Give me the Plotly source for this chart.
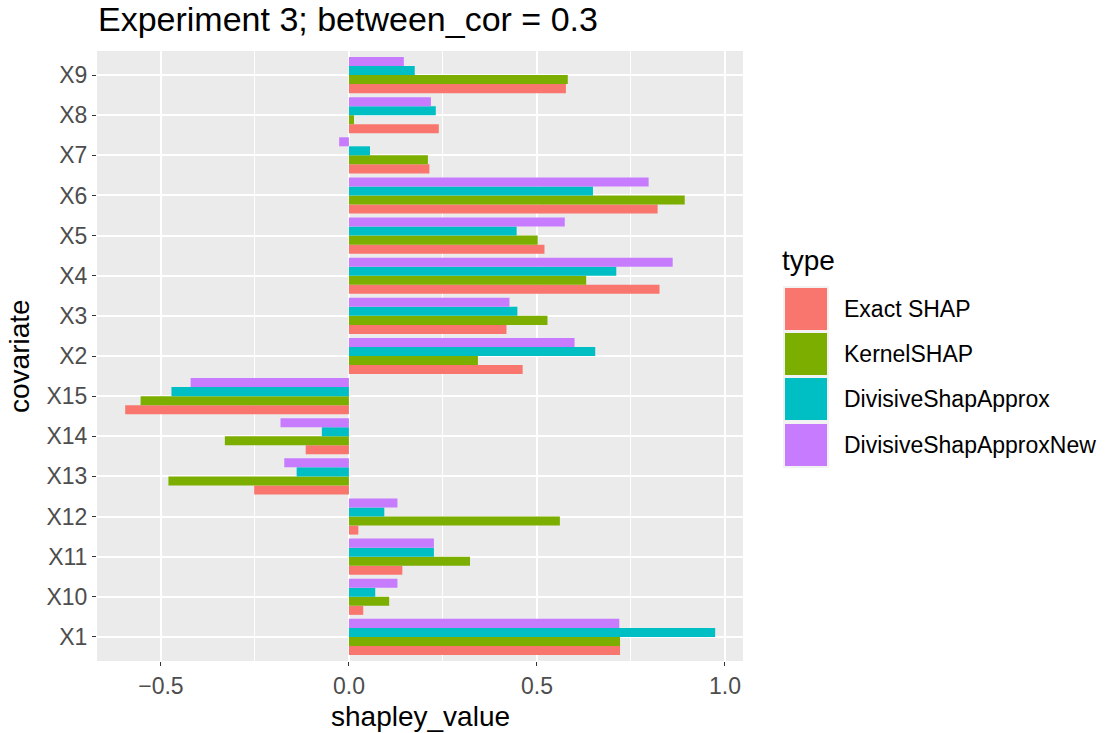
import plotly.graph_objects as go

categories = ["X1", "X10", "X11", "X12", "X13", "X14", "X15",
              "X2", "X3", "X4", "X5", "X6", "X7", "X8", "X9"]
types = ["Exact SHAP", "KernelSHAP", "DivisiveShapApprox", "DivisiveShapApproxNew"]
colors = ["#F8766D", "#7CAE00", "#00BFC4", "#C77CFF"]

exact_shap = [0.721, 0.038, 0.142, 0.025, -0.252, -0.115, -0.595,
              0.462, 0.419, 0.826, 0.520, 0.821, 0.214, 0.239, 0.577]
kernel_shap = [0.721, 0.107, 0.322, 0.561, -0.480, -0.330, -0.554,
               0.343, 0.528, 0.631, 0.502, 0.893, 0.210, 0.0135, 0.582]
divisive = [0.974, 0.070, 0.226, 0.094, -0.139, -0.072, -0.472,
            0.655, 0.448, 0.711, 0.446, 0.649, 0.056, 0.231, 0.175]
divisive_new = [0.719, 0.129, 0.226, 0.129, -0.172, -0.182, -0.421,
                0.600, 0.427, 0.861, 0.574, 0.797, -0.026, 0.218, 0.146]

series = [exact_shap, kernel_shap, divisive, divisive_new]

FONT = "Liberation Sans, Arial, sans-serif"
TICK_SIZE = 23
AXIS_TITLE_SIZE = 28
TITLE_SIZE = 34
LEGEND_TEXT_SIZE = 23

fig = go.Figure()
for name, vals, col in zip(types, series, colors):
    fig.add_trace(go.Bar(
        x=vals, y=categories, orientation="h", name=name,
        marker=dict(color=col, line=dict(width=0)),
        showlegend=False,
    ))

# page geometry (pixels)
L = dict(left=97, right=743, top=51, bottom=661, W=1107, H=733)
pw = L["right"] - L["left"]
ph = L["bottom"] - L["top"]

def px_x(x):
    return (x - L["left"]) / pw

def px_y(y):
    return (L["bottom"] - y) / ph

shapes = []
annotations = []

# ggplot-like legend
key_tops = [288, 333, 378, 424]
key_h = 42
shapes.append(dict(type="rect", xref="paper", yref="paper",
                   x0=px_x(783), x1=px_x(829), y0=px_y(468), y1=px_y(286),
                   fillcolor="#F2F2F2", line=dict(width=0), layer="above"))
for t, name, col in zip(key_tops, types, colors):
    shapes.append(dict(type="rect", xref="paper", yref="paper",
                       x0=px_x(785), x1=px_x(827), y0=px_y(t + key_h), y1=px_y(t),
                       fillcolor=col, line=dict(width=0), layer="above"))
    annotations.append(dict(xref="paper", yref="paper", x=px_x(842), y=px_y(t + key_h / 2),
                            text=name, showarrow=False, xanchor="left", yanchor="middle",
                            font=dict(family=FONT, size=LEGEND_TEXT_SIZE, color="#000000")))
annotations.append(dict(xref="paper", yref="paper", x=px_x(780), y=px_y(260),
                        text="type", showarrow=False, xanchor="left", yanchor="middle",
                        font=dict(family=FONT, size=AXIS_TITLE_SIZE, color="#000000")))

# axis titles
annotations.append(dict(xref="paper", yref="paper", x=0.5, y=px_y(716),
                        text="shapley_value", showarrow=False, xanchor="center", yanchor="middle",
                        font=dict(family=FONT, size=AXIS_TITLE_SIZE, color="#000000")))
annotations.append(dict(xref="paper", yref="paper", x=px_x(19), y=0.5, textangle=-90,
                        text="covariate", showarrow=False, xanchor="center", yanchor="middle",
                        font=dict(family=FONT, size=AXIS_TITLE_SIZE, color="#000000")))
# title
annotations.append(dict(xref="paper", yref="paper", x=px_x(96), y=px_y(19),
                        text="Experiment 3; between_cor = 0.3", showarrow=False,
                        xanchor="left", yanchor="middle",
                        font=dict(family=FONT, size=TITLE_SIZE, color="#000000")))

fig.update_layout(
    width=1107, height=733,
    margin=dict(l=L["left"], r=L["W"] - L["right"], t=L["top"], b=L["H"] - L["bottom"],
                autoexpand=False),
    paper_bgcolor="white",
    plot_bgcolor="#EBEBEB",
    barmode="group",
    bargap=0.1,
    bargroupgap=0,
    xaxis=dict(
        range=[-0.670, 1.048],
        tickvals=[-0.5, 0.0, 0.5, 1.0],
        tickformat=".1f",
        showgrid=True, gridcolor="white", gridwidth=2.2,
        zeroline=False,
        ticks="outside", ticklen=4, tickwidth=1.1, tickcolor="#333333",
        tickfont=dict(family=FONT, size=TICK_SIZE, color="#4D4D4D"),
        minor=dict(tickvals=[-0.25, 0.25, 0.75], showgrid=True, gridcolor="white",
                   gridwidth=1.1, ticks=""),
        showline=False,
    ),
    yaxis=dict(
        categoryorder="array", categoryarray=categories,
        range=[-0.6, 14.6],
        showgrid=True, gridcolor="white", gridwidth=2.2,
        zeroline=False,
        ticks="outside", ticklen=4, tickwidth=1.1, tickcolor="#333333",
        tickfont=dict(family=FONT, size=TICK_SIZE, color="#4D4D4D"),
        showline=False,
    ),
    shapes=shapes,
    annotations=annotations,
)

fig.write_html("out.html")
